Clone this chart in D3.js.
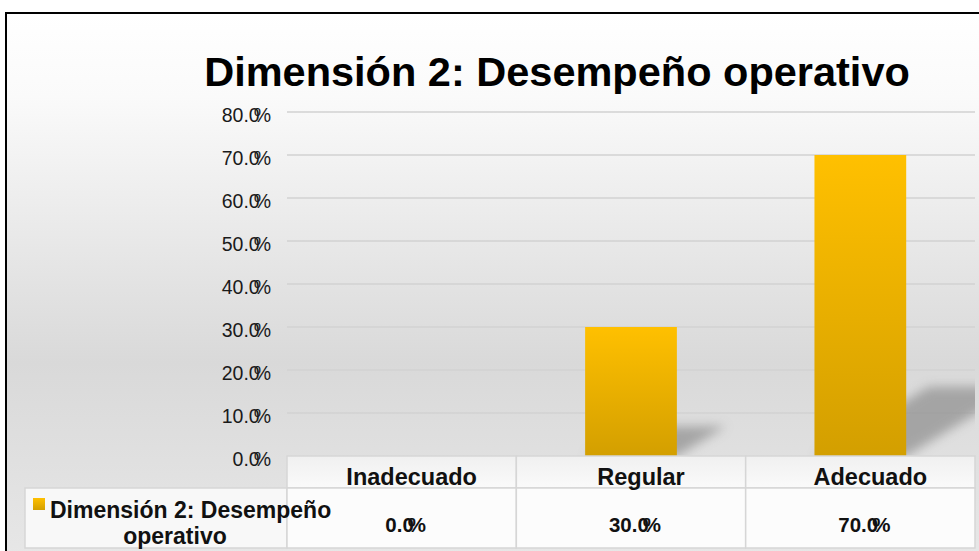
<!DOCTYPE html>
<html>
<head>
<meta charset="utf-8">
<script src="https://cdn.jsdelivr.net/npm/d3@7"></script>
<style>
  body { margin: 0; background: #ffffff; }
  svg { display: block; font-family: "Liberation Sans", Arial, sans-serif; }
</style>
</head>
<body>
<script>
(function(){

    /////////// DATA //////////
    const titleText = "Dimensión 2: Desempeño operativo";
    const seriesName = ["Dimensión 2: Desempeño", "operativo"]; // legend label, two lines
    const categories = ["Inadecuado", "Regular", "Adecuado"];
    const values = [0.0, 0.30, 0.70];
    const yTicks = [0, 0.1, 0.2, 0.3, 0.4, 0.5, 0.6, 0.7, 0.8];

    /////////// LAYOUT //////////
    const width = 979, height = 551;
    const plot = { left: 287, right: 975, top: 112, bottom: 456 };
    const rowHead = { top: 456, bottom: 488 };
    const rowData = { top: 488, bottom: 548 };
    const legendCellLeft = 25;
    const fmt = d3.format(".1f");

    const svg = d3.select("body").append("svg")
        .attr("width", width)
        .attr("height", height);

    const defs = svg.append("defs");

    // chart background: white at top, grey in the middle, lighter at the bottom
    const bg = defs.append("linearGradient").attr("id", "bgGrad")
        .attr("x1", 0).attr("y1", 0).attr("x2", 0).attr("y2", 1);
    [[0, "#ffffff"], [0.12, "#fafafa"], [0.5, "#d9d9d9"], [0.8, "#e8e8e8"], [1, "#f4f4f4"]]
        .forEach(s => bg.append("stop").attr("offset", s[0]).attr("stop-color", s[1]));

    const barGrad = defs.append("linearGradient").attr("id", "barGrad")
        .attr("x1", 0).attr("y1", 0).attr("x2", 0).attr("y2", 1);
    barGrad.append("stop").attr("offset", 0).attr("stop-color", "#ffc000");
    barGrad.append("stop").attr("offset", 1).attr("stop-color", "#d39f00");

    const headGrad = defs.append("linearGradient").attr("id", "headGrad")
        .attr("x1", 0).attr("y1", 0).attr("x2", 0).attr("y2", 1);
    headGrad.append("stop").attr("offset", 0).attr("stop-color", "#f0f0f0");
    headGrad.append("stop").attr("offset", 1).attr("stop-color", "#fafafa");

    defs.append("filter").attr("id", "shadowBlur")
        .attr("x", "-50%").attr("y", "-50%").attr("width", "200%").attr("height", "200%")
        .append("feGaussianBlur").attr("stdDeviation", 5.5);

    defs.append("clipPath").attr("id", "plotClip")
        .append("rect")
        .attr("x", plot.left).attr("y", plot.top)
        .attr("width", plot.right - plot.left).attr("height", plot.bottom - plot.top);

    // background + black frame (runs off the right and bottom edge)
    svg.append("rect")
        .attr("x", 6).attr("y", 13)
        .attr("width", 1100).attr("height", 700)
        .attr("fill", "url(#bgGrad)")
        .attr("stroke", "#000").attr("stroke-width", 2);

    /////////// SCALES //////////
    const x = d3.scaleBand()
        .domain(categories)
        .range([plot.left, plot.right])
        .padding(0);

    const y = d3.scaleLinear()
        .domain([0, 0.8])
        .range([plot.bottom, plot.top]);

    const barW = x.bandwidth() * 0.4;

    /////////// GRIDLINES //////////
    svg.append("g")
        .selectAll("line")
        .data(yTicks.filter(d => d > 0))
        .join("line")
        .attr("x1", plot.left).attr("x2", plot.right)
        .attr("y1", d => y(d)).attr("y2", d => y(d))
        .attr("stroke", "#d2d2d2")
        .attr("stroke-width", 1.5);

    /////////// Y AXIS //////////
    const yAxis = svg.append("g")
        .attr("transform", `translate(${plot.left - 13},3)`)
        .call(d3.axisLeft(y).tickValues(yTicks).tickSize(0).tickFormat(d => fmt(d * 100)));
    yAxis.select(".domain").remove();
    yAxis.selectAll("text")
        .attr("font-family", "Liberation Sans, Arial, sans-serif")
        .attr("font-size", 19.5)
        .attr("fill", "#1a1a1a")
        .attr("dx", 0)
        .append("tspan").attr("dx", -6).text("%");

    /////////// SHADOWS + BARS //////////
    const shadows = svg.append("g")
        .attr("clip-path", "url(#plotClip)");
    shadows.selectAll("path")
        .data(values.map((v, i) => ({ cat: categories[i], v })).filter(d => d.v > 0))
        .join("path")
        .attr("d", d => {
            const h = y(0) - y(d.v);
            const x0 = x(d.cat) + (x.bandwidth() - barW) / 2;
            const x1 = x0 + barW;
            const sx = 0.38 * h, sy = 0.23 * h;
            return `M${x0},${y(0)}L${x1},${y(0)}L${x1 + sx},${y(0) - sy}L${x0 + sx},${y(0) - sy}Z`;
        })
        .attr("fill", "#8f8f8f")
        .attr("opacity", 0.72)
        .attr("filter", "url(#shadowBlur)");

    svg.append("g")
        .selectAll("rect")
        .data(values.map((v, i) => ({ cat: categories[i], v })))
        .join("rect")
        .attr("x", d => x(d.cat) + (x.bandwidth() - barW) / 2)
        .attr("y", d => y(d.v))
        .attr("width", barW)
        .attr("height", d => y(0) - y(d.v))
        .attr("fill", "url(#barGrad)");

    /////////// DATA TABLE //////////
    const table = svg.append("g");
    const cellStroke = "#d6d6d6";

    // header row
    table.selectAll(".head")
        .data(categories)
        .join("rect")
        .attr("class", "head")
        .attr("x", d => x(d)).attr("y", rowHead.top)
        .attr("width", x.bandwidth()).attr("height", rowHead.bottom - rowHead.top)
        .attr("fill", "url(#headGrad)")
        .attr("stroke", cellStroke).attr("stroke-width", 1.5);

    // legend cell
    table.append("rect")
        .attr("x", legendCellLeft).attr("y", rowData.top)
        .attr("width", plot.left - legendCellLeft).attr("height", rowData.bottom - rowData.top)
        .attr("fill", "#f8f8f8")
        .attr("stroke", cellStroke).attr("stroke-width", 1.5);

    // data row
    table.selectAll(".cell")
        .data(categories)
        .join("rect")
        .attr("class", "cell")
        .attr("x", d => x(d)).attr("y", rowData.top)
        .attr("width", x.bandwidth()).attr("height", rowData.bottom - rowData.top)
        .attr("fill", "#fcfcfc")
        .attr("stroke", cellStroke).attr("stroke-width", 1.5);

    table.selectAll(".catLabel")
        .data(categories)
        .join("text")
        .attr("class", "catLabel")
        .attr("x", d => x(d) + x.bandwidth() / 2 + 10)
        .attr("y", 485)
        .attr("text-anchor", "middle")
        .attr("font-size", 23.5)
        .attr("font-weight", "bold")
        .attr("fill", "#111")
        .text(d => d);

    const valText = table.selectAll(".valLabel")
        .data(values.map((v, i) => ({ cat: categories[i], v })))
        .join("text")
        .attr("class", "valLabel")
        .attr("x", d => x(d.cat) + x.bandwidth() / 2 + 4)
        .attr("y", 532)
        .attr("text-anchor", "middle")
        .attr("font-size", 20.5)
        .attr("font-weight", "bold")
        .attr("fill", "#111")
        .text(d => fmt(d.v * 100));
    valText.append("tspan").attr("dx", -6).text("%");

    // legend key + label
    table.append("rect")
        .attr("x", 33).attr("y", 498)
        .attr("width", 12).attr("height", 12)
        .attr("fill", "url(#barGrad)");

    const legendText = table.append("text")
        .attr("font-size", 23)
        .attr("font-weight", "bold")
        .attr("fill", "#111");
    legendText.append("tspan").attr("x", 50).attr("y", 518).text(seriesName[0]);
    legendText.append("tspan").attr("x", 175).attr("y", 544)
        .attr("text-anchor", "middle").text(seriesName[1]);

    /////////// TITLE //////////
    svg.append("text")
        .attr("x", 557).attr("y", 86)
        .attr("text-anchor", "middle")
        .attr("font-size", 41.5)
        .attr("font-weight", "bold")
        .attr("fill", "#000")
        .text(titleText);

})();
</script>
</body>
</html>
